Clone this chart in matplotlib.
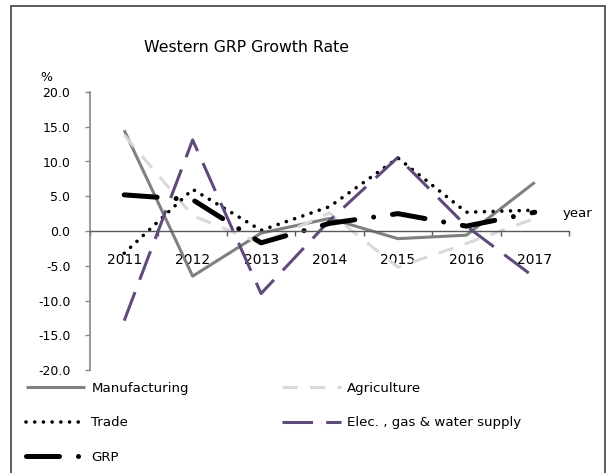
import matplotlib.pyplot as plt
from matplotlib.patches import Rectangle
import numpy as np

years = ['2011', '2012', '2013', '2014', '2015', '2016', '2017']
manufacturing = [14.5, -6.5, -0.3, 1.8, -1.1, -0.6, 7.0]
agriculture = [13.8, 2.2, -1.8, 2.6, -5.2, -1.8, 1.8]
trade = [-3.2, 6.0, 0.1, 3.5, 10.5, 2.7, 3.0]
elec = [-12.9, 13.1, -9.0, 1.5, 10.6, 0.7, -6.7]
grp = [5.2, 4.5, -1.7, 1.1, 2.5, 0.7, 2.7]

W, H = 607, 473
fig = plt.figure(figsize=(W / 100, H / 100), dpi=100)
plt.rcParams['font.family'] = 'DejaVu Sans'

# axes box in pixels: x 90..569, y 92 (20) .. 370 (-20)
ax = fig.add_axes([90 / W, 1 - 370 / H, (569 - 90) / W, (370 - 92) / H])
x = np.arange(len(years))

l1, = ax.plot(x, manufacturing, color='#808080', lw=2.2, solid_capstyle='butt')
l2, = ax.plot(x, agriculture, color='#D9D9D9', lw=2.2, dashes=(5, 4))
l3, = ax.plot(x, trade, color='black', lw=2.6, dashes=(0.01, 2.4),
              dash_capstyle='round')
l4, = ax.plot(x, elec, color='#604A7B', lw=2.2, dashes=(10, 4.3))
l5, = ax.plot(x, grp, color='black', lw=3.6, dashes=(6.6, 3.8, 0.01, 3.8),
              dash_capstyle='round')

ax.set_xlim(-0.5, 6.5)
ax.set_ylim(-20, 20)
ax.set_yticks(np.arange(-20, 21, 5))
ax.set_yticklabels([f'{v:.1f}' for v in np.arange(-20, 21, 5)], fontsize=9)
ax.tick_params(axis='y', direction='out', length=3.6, width=1, color='#868686', pad=10.5)

ax.set_xticks(x)
ax.set_xticklabels(years, fontsize=9.3)
ax.tick_params(axis='x', which='major', length=0, pad=16)
ax.set_xticks(np.arange(-0.5, 6.6, 1), minor=True)
ax.tick_params(axis='x', which='minor', direction='out', length=3.6, width=1, color='#595959')

for s in ['top', 'right']:
    ax.spines[s].set_visible(False)
ax.spines['bottom'].set_position(('data', 0))
ax.spines['bottom'].set_color('#595959')
ax.spines['bottom'].set_linewidth(1)
ax.spines['left'].set_color('#868686')
ax.spines['left'].set_linewidth(1.2)

fig.text(246 / W, 1 - 47 / H, 'Western GRP Growth Rate', fontsize=11.3,
         ha='center', va='center')
fig.text(46 / W, 1 - 77 / H, '%', fontsize=9, ha='center', va='center')
fig.text(563 / W, 1 - 213 / H, 'year', fontsize=9.5, ha='left', va='center')

leg_kw = dict(frameon=False, fontsize=9.6, handlelength=4.4, handletextpad=0.5,
              labelspacing=1.6, borderpad=0, borderaxespad=0, loc='upper left')
leg1 = fig.legend([l1, l3, l5], ['Manufacturing', 'Trade', 'GRP'],
                  bbox_to_anchor=(26 / W, 1 - 382 / H), **leg_kw)
leg2 = fig.legend([l2, l4], ['Agriculture', 'Elec. , gas & water supply'],
                  bbox_to_anchor=(282 / W, 1 - 382 / H), **leg_kw)

fig.add_artist(Rectangle((11 / W, -0.05), (605 - 11) / W, 1.05 - 6 / H,
                         transform=fig.transFigure, fill=False,
                         edgecolor='#404040', lw=1.2, clip_on=False))

fig.savefig('out.png', dpi=100)
